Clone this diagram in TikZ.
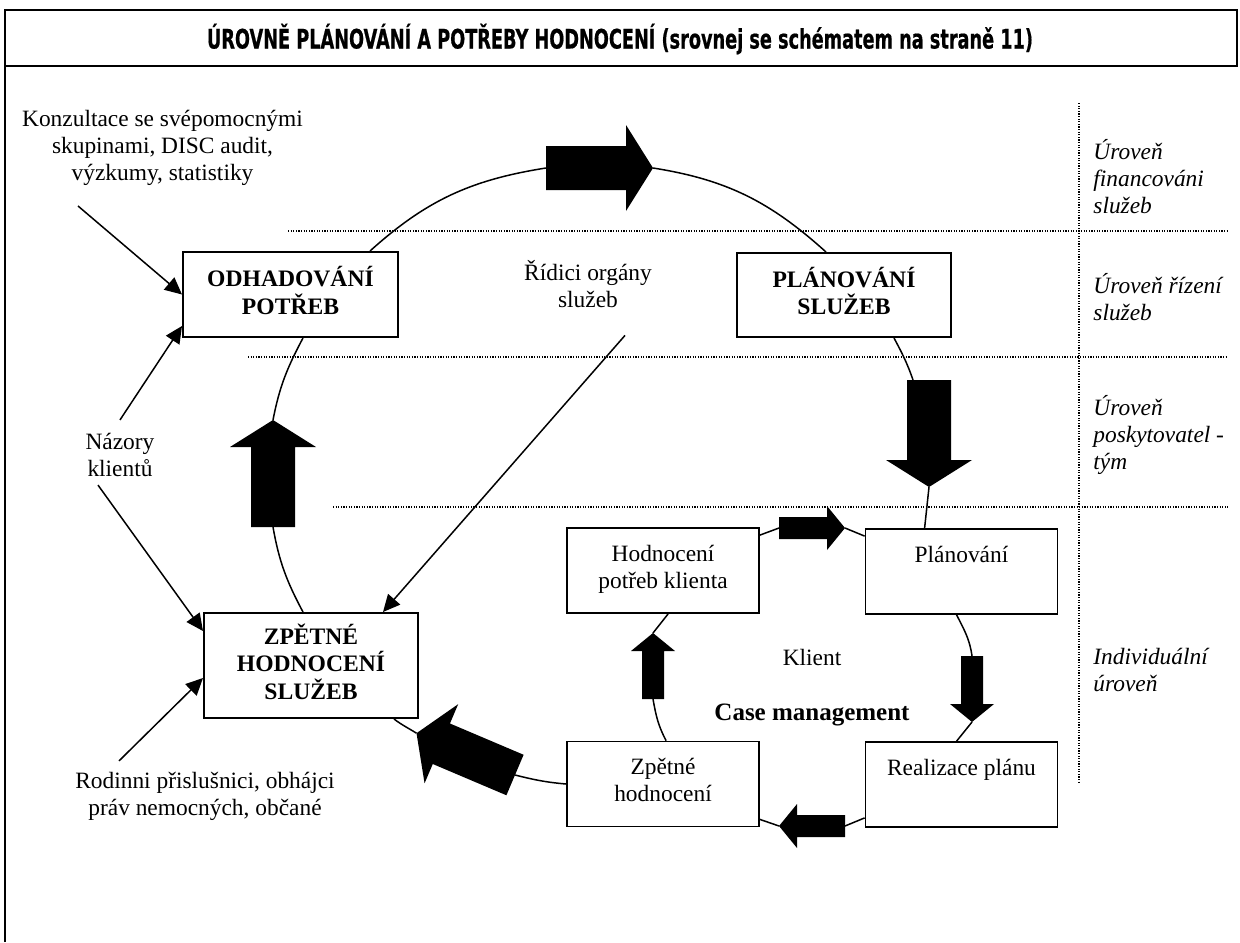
\documentclass[tikz,border=0pt]{standalone}
\usepackage{fontspec}
\setmainfont{Liberation Serif}
\newfontfamily\titlefont{DejaVu Sans}[FakeStretch=0.66,FakeBold=0.6]
\usetikzlibrary{arrows.meta,calc}

% solid block arrows, drawn from the tail centre along +x
\tikzset{
  bigarrow/.pic={\fill (0,-22) -- (80,-22) -- (80,-43) -- (107,0) -- (80,43) -- (80,22) -- (0,22) -- cycle;},
  smallarrow/.pic={\fill (0,-11) -- (48,-11) -- (48,-22) -- (66,0) -- (48,22) -- (48,11) -- (0,11) -- cycle;}
}

\begin{document}
\begin{tikzpicture}[x=0.5pt,y=0.5pt,
  frame/.style={line width=1.4pt},
  plain/.style={font=\fontsize{11.7}{13.5}\selectfont, inner sep=0pt, align=center,
    execute at begin node=\strut, execute at end node=\strut},
  lvl/.style={font=\fontsize{11.7}{13.5}\selectfont\itshape, inner sep=0pt, align=left, anchor=west,
    execute at begin node=\strut, execute at end node=\strut},
  bigbox/.style={draw, line width=1pt, fill=white, minimum width=107.5pt, minimum height=42.5pt,
    inner sep=0pt, align=center, font=\fontsize{11.8}{13.7}\selectfont\bfseries,
    execute at begin node=\strut, execute at end node=\strut},
  smallbox/.style={draw, line width=0.9pt, fill=white, minimum width=96pt, minimum height=42.5pt,
    inner sep=0pt, align=center, font=\fontsize{11.7}{13.5}\selectfont,
    execute at begin node=\strut, execute at end node=\strut},
  loopline/.style={line width=0.75pt},
  feed/.style={line width=0.75pt, -{Triangle[length=8.5pt,width=8pt]}},
  level/.style={line width=0.6pt, dash pattern=on 0.6pt off 0.7pt}
]
\useasboundingbox (0,0) rectangle (1240,-942);

% outer frame and title bar
\draw[frame] (5,-942) -- (5,-10) -- (1237,-10) -- (1237,-66) -- (5,-66);
\node[inner sep=0pt] (title) at (620,-39)
  {\resizebox{413pt}{!}{\titlefont\bfseries\fontsize{13}{15}\selectfont ÚROVNĚ PLÁNOVÁNÍ A POTŘEBY HODNOCENÍ (srovnej se schématem na straně 11)}};

% level separators
\draw[level] (288,-231) -- (1228,-231);
\draw[level] (248,-357) -- (1228,-357);
\draw[level] (333,-507) -- (1228,-507);
\draw[level] (1079,-103) -- (1079,-783);

% level names
\node[lvl] (lv1) at (1093,-181) {Úroveň\\financováni\\služeb};
\node[lvl] (lv2) at (1093,-301) {Úroveň řízení\\služeb};
\node[lvl] (lv3) at (1093,-437) {Úroveň\\poskytovatel -\\tým};
\node[lvl] (lv4) at (1093,-674) {Individuální\\úroveň};

% free texts
\node[plain] (konz) at (162.5,-149.4) {Konzultace se svépomocnými\\skupinami, DISC audit,\\výzkumy, statistiky};
\node[plain] (nazory) at (120,-459) {Názory\\klientů};
\node[plain] (rodin) at (205,-798) {Rodinni přislušnici, obhájci\\práv nemocných, občané};
\node[plain] (ridici) at (588,-288.4) {Řídici orgány\\služeb};
\node[plain] (klient) at (812,-660.4) {Klient};
\node[plain, font=\fontsize{12.5}{13.5}\selectfont\bfseries] (casem) at (812,-714.6) {Case management};

% boxes of the outer cycle
\node[bigbox] (odhad) at (290.5,-294.5) {ODHADOVÁNÍ\\POTŘEB};
\node[bigbox, minimum width=107pt, minimum height=42pt] (plan) at (844,-295) {PLÁNOVÁNÍ\\SLUŽEB};
\node[bigbox, minimum width=107pt, minimum height=52.5pt] (zpet) at (311,-665.5) {ZPĚTNÉ\\HODNOCENÍ\\SLUŽEB};

% boxes of the case management cycle
\node[smallbox] (hodn) at (663,-570.5) {Hodnocení\\potřeb klienta};
\node[smallbox] (plano) at (961.5,-571.5) {Plánování\\~};
\node[smallbox] (zpetm) at (663,-784) {Zpětné\\hodnocení};
\node[smallbox] (real) at (961.5,-784.5) {Realizace plánu\\~};

% ends of the block arrows
\coordinate (a1t) at (546,-168);   \coordinate (a1h) at (653,-168);
\coordinate (a2t) at (929,-380);   \coordinate (a2h) at (929,-487);
\coordinate (a2in) at (913,-380);
\coordinate (a3t) at (273,-527);   \coordinate (a3h) at (273,-420);
\coordinate (a4t) at (515,-775);   \coordinate (a4h) at (416.5,-733.2);
\coordinate (s1t) at (779,-528);   \coordinate (s1h) at (845,-528);
\coordinate (s2t) at (972,-656);   \coordinate (s2h) at (972,-722);
\coordinate (s3t) at (845,-826);   \coordinate (s3h) at (779,-826);
\coordinate (s4t) at (653,-699);   \coordinate (s4h) at (653,-633);

% outer cycle
\draw[loopline] ($(odhad.north west)+(188,0)$) to[out=42,in=189] (a1t);
\draw[loopline] (a1h) to[out=-9,in=138] ($(plan.north west)+(90,0)$);
\draw[loopline] ($(plan.south west)+(158,0)$) to[out=-62,in=109] (a2in);
\draw[loopline] (a2h) -- ($(plano.north west)+(60,0)$);
\draw[loopline] (zpetm.west) to[out=175,in=-14] (a4t);
\draw[loopline] (a4h) to[out=148,in=-37] ($(zpet.south west)+(191,0)$);
\draw[loopline] ($(zpet.north west)+(100,0)$) to[out=118,in=-80] (a3t);
\draw[loopline] (a3h) to[out=79,in=-118] ($(odhad.south west)+(121,0)$);

% case management cycle
\draw[loopline] ($(hodn.north east)+(0,-8)$) -- (s1t);
\draw[loopline] (s1h) -- ($(plano.north west)+(0,-8)$);
\draw[loopline] ($(plano.south west)+(92,0)$) to[out=-63,in=98] (s2t);
\draw[loopline] (s2h) -- ($(real.north west)+(92,0)$);
\draw[loopline] ($(real.south west)+(0,10)$) -- (s3t);
\draw[loopline] (s3h) -- ($(zpetm.south east)+(0,8)$);
\draw[loopline] ($(zpetm.north west)+(100,0)$) to[out=118,in=-80] (s4t);
\draw[loopline] (s4h) -- ($(hodn.south west)+(102,0)$);

% inputs
\draw[feed] ($(konz.south)+(-84.5,-17)$) -- (odhad.west);
\draw[feed] ($(nazory.north)+(0,13)$) -- ($(odhad.south west)+(0,12)$);
\draw[feed] ($(nazory.south)+(-22,0)$) -- ($(zpet.north west)+(0,-19)$);
\draw[feed] ($(rodin.north)+(-86,11)$) -- ($(zpet.south west)+(0,41)$);
\draw[feed] ($(ridici.south)+(37,-19)$) -- ($(zpet.north east)+(-36,0)$);

% block arrows
\pic at (a1t) {bigarrow};
\pic[rotate=-90] at (a2t) {bigarrow};
\pic[rotate=90] at (a3t) {bigarrow};
\pic[rotate=157] at (a4t) {bigarrow};
\pic at (s1t) {smallarrow};
\pic[rotate=-90] at (s2t) {smallarrow};
\pic[rotate=180] at (s3t) {smallarrow};
\pic[rotate=90] at (s4t) {smallarrow};
\end{tikzpicture}
\end{document}
